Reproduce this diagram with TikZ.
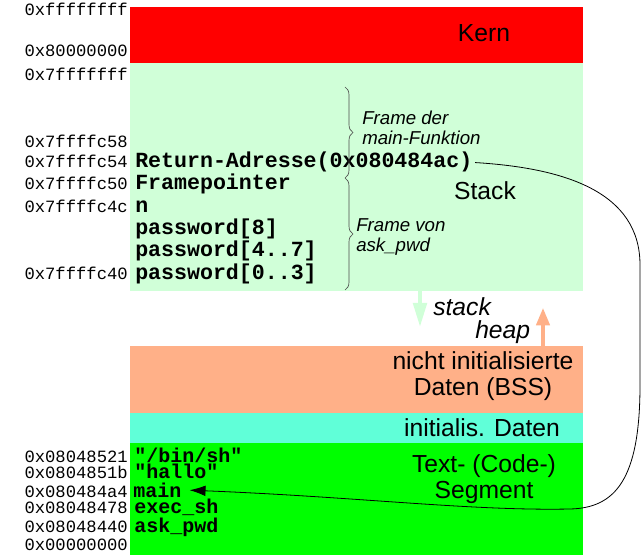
\documentclass[tikz,border=0pt]{standalone}
\usepackage{fontspec}
\setmainfont{Liberation Sans}
\newfontfamily\addrfont{Liberation Mono}
\usetikzlibrary{arrows.meta,decorations.pathreplacing}
\definecolor{kernred}{RGB}{255,0,0}
\definecolor{stackgreen}{RGB}{208,255,216}
\definecolor{bsssalmon}{RGB}{255,176,136}
\definecolor{datacyan}{RGB}{96,255,216}
\definecolor{codegreen}{RGB}{0,255,0}

\begin{document}
\begin{tikzpicture}[x=0.75pt,y=-0.75pt,
  addr/.style={anchor=base east,inner sep=0pt,font=\addrfont\fontsize{12.9}{14}\selectfont},
  entry/.style={anchor=base west,inner sep=0pt,font=\addrfont\bfseries\fontsize{16.2}{18}\selectfont},
  code entry/.style={entry,font=\addrfont\bfseries\fontsize{15}{16}\selectfont},
  seg label/.style={align=center,font=\fontsize{18.5}{19.5}\selectfont},
  note/.style={align=left,anchor=west,inner sep=0pt,font=\itshape\fontsize{14}{15}\selectfont},
  growlabel/.style={anchor=base west,inner sep=0pt,font=\itshape\fontsize{18.5}{20}\selectfont},
  frame brace/.style={decorate,decoration={brace,amplitude=6pt},black!70,line width=0.5pt}]
  \useasboundingbox (0,0) rectangle (642,555);

  \fill[kernred]    (130,7)   rectangle (583,63);
  \fill[stackgreen] (130,63)  rectangle (583,291);
  \fill[bsssalmon]  (130,346) rectangle (583,413);
  \fill[datacyan]   (130,413) rectangle (583,443);
  \fill[codegreen]  (130,443) rectangle (583,555);

  \node[addr] (a1) at (128,16)  {0xffffffff};
  \node[addr] (a2) at (128,57)  {0x80000000};
  \node[addr] (a3) at (128,81)  {0x7fffffff};
  \node[addr] (a4) at (128,148) {0x7ffffc58};
  \node[addr] (a5) at (128,168) {0x7ffffc54};
  \node[addr] (a6) at (128,190) {0x7ffffc50};
  \node[addr] (a7) at (128,212.5) {0x7ffffc4c};
  \node[addr] (a8) at (128,280) {0x7ffffc40};
  \node[addr] (b1) at (128,462) {0x08048521};
  \node[addr] (b2) at (128,478) {0x0804851b};
  \node[addr] (b3) at (128,497) {0x080484a4};
  \node[addr] (b4) at (128,513) {0x08048478};
  \node[addr] (b5) at (128,532) {0x08048440};
  \node[addr] (b6) at (128,550) {0x00000000};

  \node[entry] (ret)  at (135,168)   {Return-Adresse(0x080484ac)};
  \node[entry] (fp)   at (135,190)   {Framepointer};
  \node[entry] (n)    at (135,212.5) {n};
  \node[entry] (pw8)  at (135,235)   {password[8]};
  \node[entry] (pw47) at (135,257)   {password[4..7]};
  \node[entry] (pw03) at (135,280)   {password[0..3]};
  \node[code entry] (sh)   at (134,462) {"/bin/sh"};
  \node[code entry] (hal)  at (134,478) {"hallo"};
  \node[code entry] (main) at (133,497) {main};
  \node[code entry] (exe)  at (134,513) {exec\_sh};
  \node[code entry] (ask)  at (134,532) {ask\_pwd};

  \node[seg label] (kern)  at (484,33)  {Kern};
  \node[seg label] (stack) at (485,191) {Stack};
  \node[seg label] (bss)   at (483,376) {nicht initialisierte\\Daten (BSS)};
  \node[seg label] (idata) at (482,428) {initialis. Daten};
  \node[seg label] (text)  at (484,479) {Text- (Code-)\\Segment};

  \draw[frame brace] (345,87) -- (345,178);
  \draw[frame brace] (345,178) -- (345,290);
  \node[note] (fmain) at (362,128) {Frame der\\main-Funktion};
  \node[note] (fask)  at (356,237) {Frame von\\ask\_pwd};

  \coordinate (sgtop) at (420,291);
  \coordinate (sgtip) at (420,327);
  \coordinate (hpbot) at (543,346);
  \coordinate (hptip) at (543,308);
  \draw[stackgreen,line width=3pt,-{Triangle[length=18pt,width=10pt]}] (sgtop) -- (sgtip);
  \draw[bsssalmon,line width=2.5pt,-{Triangle[length=13pt,width=10pt]}] (hpbot) -- (hptip);
  \node[growlabel] (sl) at (433,316) {stack};
  \node[growlabel] (hl) at (475,339) {heap};

  \draw[line width=0.6pt,shorten <=2pt,shorten >=6pt,-{Latex[length=12pt,width=8pt]}]
    (ret.east) .. controls (565,168) and (640,192) .. (640,265) -- (640,385)
    .. controls (640,480) and (615,508) .. (570,509)
    .. controls (470,511) and (360,497) .. (main.east);
\end{tikzpicture}
\end{document}
